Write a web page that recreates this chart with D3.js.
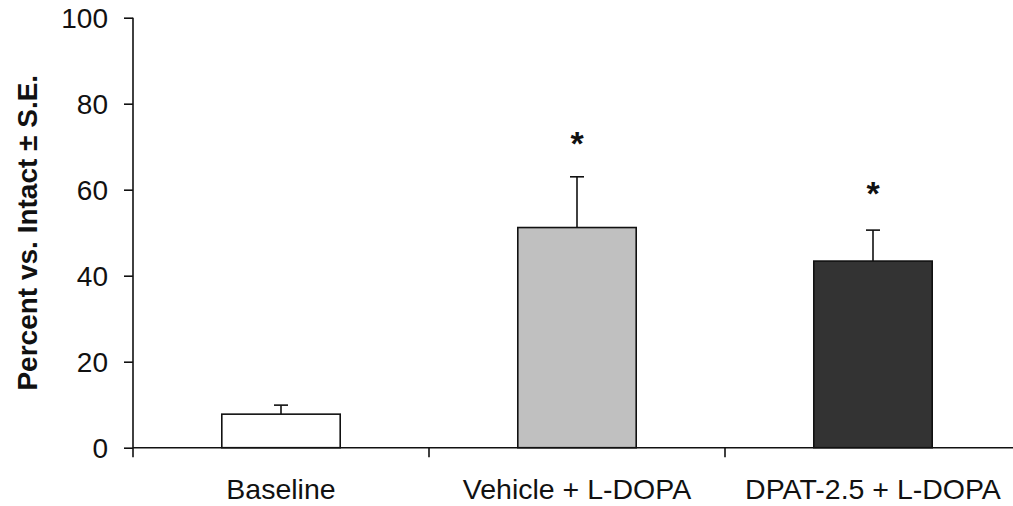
<!DOCTYPE html>
<html>
<head>
<meta charset="utf-8">
<script src="https://cdn.jsdelivr.net/npm/d3@7"></script>
<style>
  body { margin: 0; background: #fff; }
  svg { display: block; font-family: "Liberation Sans", Arial, sans-serif; }
</style>
</head>
<body>
<div id="chart"></div>
<script>
// data
var groups = ["Baseline", "Vehicle + L-DOPA", "DPAT-2.5 + L-DOPA"];
var means = [7.8, 51.2, 43.4];
var errors = [2.1, 11.8, 7.2];
var fills = ["#ffffff", "#c0c0c0", "#333333"];
var starAt = [null, 72.6, 61.0];   // where the significance marks sit (percent units)
var yTicks = [0, 20, 40, 60, 80, 100];

const width = 1013, height = 506;
const margin = { top: 17.7, right: -8, bottom: 58.3, left: 133 };

var svg = d3.select("#chart")
    .append("svg")
    .attr("width", width)
    .attr("height", height);

var x = d3.scaleBand()
    .domain(groups)
    .range([margin.left, width - margin.right])
    .paddingInner(0.6)
    .paddingOuter(0.3);

// band edges for the category ticks
var edge = d3.scaleLinear()
    .domain([0, groups.length])
    .range([margin.left, width - margin.right]);

var y = d3.scaleLinear()
    .domain([0, 100])
    .range([height - margin.bottom, margin.top]);

// y axis
var yAxis = svg.append("g")
    .attr("transform", `translate(${margin.left},0)`)
    .call(d3.axisLeft(y).tickValues(yTicks).tickSize(9).tickPadding(16));
yAxis.select(".domain").attr("d", `M0,${y(100)}V${y(0) + 9.5}`);
yAxis.selectAll("line, path").attr("stroke", "#111").attr("stroke-width", 1.6);
yAxis.selectAll("text")
    .attr("font-size", 28)
    .attr("font-family", "Liberation Sans, Arial, sans-serif")
    .attr("fill", "#111")
    .attr("dy", "0.36em");

// x axis line and category boundary ticks
svg.append("line")
    .attr("x1", margin.left).attr("x2", width)
    .attr("y1", y(0)).attr("y2", y(0))
    .attr("stroke", "#111").attr("stroke-width", 1.6);
d3.range(1, groups.length + 1).forEach(function(i) {
    svg.append("line")
        .attr("x1", edge(i)).attr("x2", edge(i))
        .attr("y1", y(0)).attr("y2", y(0) + 9.5)
        .attr("stroke", "#111").attr("stroke-width", 1.6);
});

// category labels
svg.selectAll(".xlab")
    .data(groups)
    .enter().append("text")
    .attr("class", "xlab")
    .attr("x", d => x(d) + x.bandwidth() / 2)
    .attr("y", 499)
    .attr("text-anchor", "middle")
    .attr("font-size", 28.5)
    .attr("fill", "#111")
    .text(d => d);

// error bars (upper only)
groups.forEach(function(g, i) {
    var cx = x(g) + x.bandwidth() / 2;
    svg.append("line")
        .attr("x1", cx).attr("x2", cx)
        .attr("y1", y(means[i])).attr("y2", y(means[i] + errors[i]))
        .attr("stroke", "#111").attr("stroke-width", 1.6);
    svg.append("line")
        .attr("x1", cx - 7).attr("x2", cx + 7)
        .attr("y1", y(means[i] + errors[i])).attr("y2", y(means[i] + errors[i]))
        .attr("stroke", "#111").attr("stroke-width", 1.6);
});

// bars
svg.selectAll(".bar")
    .data(groups)
    .enter().append("rect")
    .attr("class", "bar")
    .attr("x", d => x(d))
    .attr("y", (d, i) => y(means[i]))
    .attr("width", x.bandwidth())
    .attr("height", (d, i) => y(0) - y(means[i]))
    .attr("fill", (d, i) => fills[i])
    .attr("stroke", "#111")
    .attr("stroke-width", 1.6);

// significance stars
groups.forEach(function(g, i) {
    if (starAt[i] == null) return;
    svg.append("text")
        .attr("x", x(g) + x.bandwidth() / 2)
        .attr("y", y(starAt[i]) + 0.58 * 34)
        .attr("text-anchor", "middle")
        .attr("font-size", 34)
        .attr("font-weight", "bold")
        .attr("fill", "#111")
        .text("*");
});

// y axis title
svg.append("text")
    .attr("transform", `translate(37,${y(50)}) rotate(-90)`)
    .attr("text-anchor", "middle")
    .attr("font-size", 28)
    .attr("font-weight", "bold")
    .attr("fill", "#111")
    .text("Percent vs. Intact ± S.E.");
</script>
</body>
</html>
